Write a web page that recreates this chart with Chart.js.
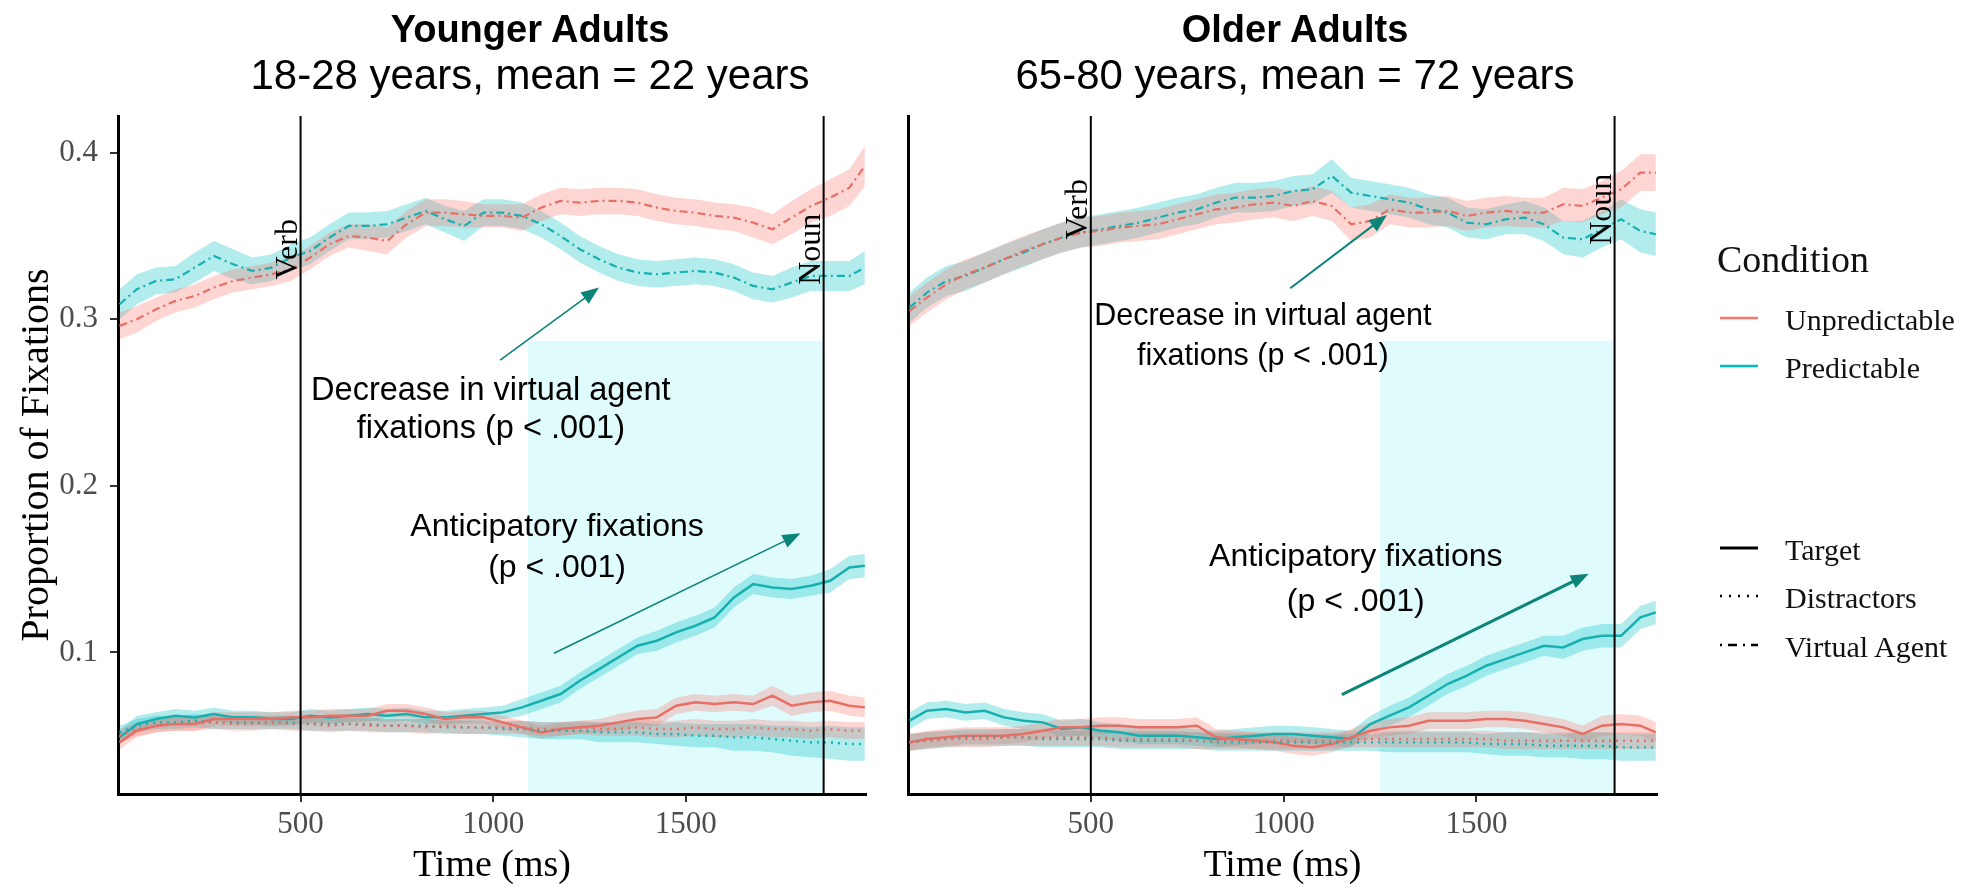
<!DOCTYPE html>
<html>
<head>
<meta charset="utf-8">
<title>Fixation proportions by age group</title>
<script src="https://cdn.jsdelivr.net/npm/chart.js@4.4.1/dist/chart.umd.min.js"></script>
<style>
  html, body { margin: 0; padding: 0; background: #fff; }
  #wrap { position: relative; width: 1980px; height: 886px; overflow: hidden; background: #fff; }
  #young { position: absolute; left: 0; top: 0; }
  #old { position: absolute; left: 880px; top: 0; }
  #overlay { position: absolute; left: 0; top: 0; }
</style>
</head>
<body>
<div id="wrap">
  <canvas id="young" width="880" height="886"></canvas>
  <canvas id="old" width="790" height="886"></canvas>
  <svg id="overlay" width="1980" height="886" xmlns="http://www.w3.org/2000/svg"></svg>
</div>
<script>
// ---- time axis (ms after sentence onset) ----
const times = [30, 75, 125, 175, 225, 275, 325, 375, 425, 475,
               525, 575, 625, 675, 725, 775, 825, 875, 925, 975,
               1025, 1075, 1125, 1175, 1225, 1275, 1325, 1375, 1425, 1475,
               1525, 1575, 1625, 1675, 1725, 1775, 1825, 1875, 1925, 1965];

const conditions = ['Unpredictable', 'Predictable'];
const regions = ['Target', 'Distractors', 'Virtual Agent'];
const panelTitles = ['Younger Adults', 'Older Adults'];
const panelSubtitles = ['18-28 years, mean = 22 years', '65-80 years, mean = 72 years'];
const eventTimes = [500, 1858];
const eventLabels = ['Verb', 'Noun'];
const xTickValues = [500, 1000, 1500];
const yTickValues = [0.1, 0.2, 0.3, 0.4];

// ---- Younger adults: mean proportion of fixations ----
const youngAgentUnpred = [0.296,0.300,0.306,0.311,0.314,0.319,0.323,0.325,0.327,0.330,
                          0.337,0.345,0.350,0.349,0.347,0.357,0.364,0.364,0.363,0.362,
                          0.362,0.361,0.367,0.371,0.370,0.371,0.371,0.370,0.367,0.365,
                          0.364,0.362,0.361,0.358,0.354,0.361,0.368,0.373,0.379,0.392];
const youngAgentPred   = [0.309,0.318,0.323,0.324,0.331,0.338,0.333,0.329,0.331,0.337,
                          0.341,0.349,0.356,0.356,0.357,0.361,0.365,0.360,0.356,0.364,
                          0.364,0.362,0.357,0.350,0.342,0.336,0.331,0.328,0.327,0.328,
                          0.329,0.328,0.325,0.320,0.318,0.322,0.326,0.326,0.326,0.331];
const youngTargetUnpred = [0.046,0.053,0.056,0.057,0.057,0.060,0.060,0.060,0.060,0.061,
                           0.061,0.062,0.062,0.062,0.065,0.065,0.063,0.060,0.061,0.061,
                           0.058,0.055,0.052,0.054,0.055,0.056,0.058,0.060,0.061,0.068,
                           0.070,0.069,0.070,0.069,0.074,0.068,0.070,0.071,0.068,0.067];
const youngTargetPred   = [0.049,0.057,0.060,0.062,0.061,0.063,0.061,0.061,0.060,0.060,
                           0.062,0.061,0.062,0.063,0.062,0.063,0.061,0.061,0.062,0.063,
                           0.064,0.067,0.071,0.075,0.083,0.090,0.097,0.104,0.107,0.112,
                           0.116,0.121,0.133,0.141,0.139,0.138,0.140,0.143,0.151,0.152];
const youngDistrUnpred = [0.050,0.054,0.056,0.057,0.057,0.058,0.057,0.057,0.058,0.057,
                          0.057,0.056,0.057,0.056,0.056,0.056,0.055,0.056,0.055,0.055,
                          0.055,0.055,0.054,0.054,0.055,0.054,0.054,0.055,0.054,0.054,
                          0.055,0.054,0.054,0.055,0.054,0.054,0.053,0.054,0.053,0.053];
const youngDistrPred   = [0.052,0.056,0.058,0.058,0.059,0.058,0.058,0.058,0.058,0.058,
                          0.057,0.057,0.057,0.057,0.056,0.056,0.056,0.055,0.055,0.055,
                          0.054,0.054,0.053,0.053,0.053,0.052,0.052,0.052,0.051,0.051,
                          0.050,0.050,0.049,0.049,0.048,0.047,0.046,0.046,0.045,0.045];

// confidence half-widths, younger adults
const youngAgentUnpredCI = [0.008,0.008,0.007,0.007,0.007,0.007,0.007,0.007,0.007,0.007,
                            0.007,0.007,0.007,0.008,0.008,0.008,0.008,0.008,0.008,0.007,
                            0.007,0.008,0.008,0.008,0.008,0.008,0.008,0.008,0.008,0.008,
                            0.008,0.008,0.008,0.009,0.009,0.010,0.010,0.011,0.011,0.012];
const youngAgentPredCI   = [0.009,0.009,0.008,0.008,0.009,0.009,0.009,0.008,0.008,0.008,
                            0.008,0.008,0.008,0.008,0.008,0.008,0.008,0.008,0.009,0.008,
                            0.008,0.008,0.008,0.008,0.008,0.008,0.008,0.008,0.008,0.008,
                            0.008,0.008,0.008,0.008,0.008,0.009,0.009,0.009,0.009,0.010];
const youngTargetUnpredCI = [0.004,0.004,0.004,0.004,0.004,0.004,0.004,0.004,0.004,0.004,
                             0.004,0.004,0.004,0.004,0.004,0.004,0.004,0.004,0.004,0.004,
                             0.004,0.004,0.004,0.004,0.004,0.004,0.005,0.005,0.005,0.005,
                             0.005,0.005,0.005,0.005,0.006,0.006,0.006,0.006,0.006,0.006];
const youngTargetPredCI   = [0.004,0.005,0.004,0.004,0.004,0.004,0.004,0.004,0.004,0.004,
                             0.004,0.004,0.004,0.004,0.004,0.004,0.004,0.004,0.004,0.004,
                             0.004,0.005,0.005,0.005,0.005,0.005,0.005,0.005,0.006,0.006,
                             0.006,0.006,0.006,0.006,0.006,0.006,0.006,0.007,0.007,0.007];
const youngDistrUnpredCI = [0.004,0.004,0.004,0.004,0.004,0.004,0.004,0.004,0.004,0.004,
                            0.004,0.004,0.004,0.004,0.004,0.004,0.004,0.004,0.004,0.004,
                            0.004,0.004,0.004,0.004,0.004,0.004,0.004,0.005,0.005,0.005,
                            0.005,0.005,0.005,0.005,0.005,0.005,0.005,0.005,0.005,0.005];
const youngDistrPredCI   = [0.004,0.004,0.004,0.004,0.004,0.004,0.004,0.004,0.004,0.004,
                            0.004,0.004,0.004,0.004,0.004,0.004,0.004,0.004,0.004,0.004,
                            0.004,0.005,0.005,0.005,0.005,0.006,0.006,0.006,0.006,0.007,
                            0.007,0.007,0.008,0.008,0.008,0.009,0.009,0.010,0.010,0.010];

// ---- Older adults: mean proportion of fixations ----
const oldAgentUnpred = [0.305,0.313,0.321,0.327,0.331,0.336,0.341,0.345,0.349,0.352,
                        0.353,0.355,0.356,0.357,0.360,0.363,0.366,0.367,0.369,0.370,
                        0.368,0.371,0.368,0.357,0.359,0.366,0.364,0.364,0.365,0.362,
                        0.364,0.365,0.364,0.364,0.369,0.368,0.373,0.378,0.388,0.388];
const oldAgentPred   = [0.307,0.316,0.323,0.326,0.331,0.336,0.340,0.345,0.349,0.352,
                        0.354,0.356,0.358,0.361,0.364,0.366,0.370,0.373,0.373,0.374,
                        0.377,0.378,0.386,0.376,0.374,0.372,0.370,0.366,0.364,0.358,
                        0.357,0.360,0.361,0.357,0.349,0.348,0.354,0.360,0.353,0.351];
const oldTargetUnpred = [0.046,0.048,0.049,0.050,0.050,0.050,0.051,0.053,0.055,0.055,
                         0.056,0.056,0.055,0.055,0.055,0.056,0.049,0.048,0.047,0.046,
                         0.044,0.043,0.045,0.049,0.053,0.055,0.056,0.059,0.059,0.059,
                         0.060,0.060,0.059,0.057,0.055,0.051,0.056,0.057,0.056,0.052];
const oldTargetPred   = [0.059,0.065,0.066,0.064,0.065,0.061,0.059,0.058,0.054,0.055,
                         0.053,0.052,0.050,0.050,0.050,0.049,0.048,0.049,0.050,0.051,
                         0.051,0.050,0.049,0.048,0.057,0.062,0.067,0.074,0.081,0.086,
                         0.092,0.096,0.100,0.104,0.103,0.108,0.110,0.110,0.121,0.124];
const oldDistrUnpred = [0.046,0.047,0.048,0.048,0.048,0.049,0.049,0.049,0.049,0.049,
                        0.049,0.048,0.048,0.048,0.048,0.047,0.047,0.047,0.047,0.047,
                        0.047,0.047,0.047,0.048,0.048,0.048,0.048,0.048,0.048,0.048,
                        0.048,0.047,0.047,0.047,0.047,0.047,0.047,0.047,0.047,0.047];
const oldDistrPred   = [0.046,0.047,0.048,0.049,0.049,0.049,0.049,0.048,0.048,0.048,
                        0.048,0.047,0.047,0.047,0.047,0.047,0.046,0.046,0.046,0.046,
                        0.046,0.046,0.046,0.046,0.046,0.046,0.046,0.046,0.046,0.046,
                        0.045,0.045,0.045,0.044,0.044,0.044,0.044,0.043,0.043,0.043];

// confidence half-widths, older adults
const oldAgentUnpredCI = [0.009,0.009,0.009,0.009,0.009,0.009,0.009,0.009,0.009,0.009,
                          0.009,0.009,0.009,0.009,0.009,0.009,0.009,0.009,0.009,0.009,
                          0.009,0.009,0.009,0.010,0.010,0.009,0.009,0.009,0.009,0.009,
                          0.009,0.009,0.009,0.009,0.010,0.010,0.010,0.011,0.011,0.011];
const oldAgentPredCI   = [0.009,0.009,0.009,0.009,0.009,0.009,0.009,0.009,0.009,0.009,
                          0.009,0.009,0.009,0.009,0.009,0.009,0.009,0.009,0.009,0.009,
                          0.009,0.009,0.010,0.009,0.009,0.009,0.009,0.009,0.009,0.009,
                          0.009,0.009,0.010,0.010,0.010,0.011,0.011,0.012,0.013,0.013];
const oldTargetUnpredCI = [0.005,0.005,0.005,0.005,0.005,0.005,0.005,0.005,0.005,0.005,
                           0.005,0.005,0.005,0.005,0.005,0.005,0.005,0.005,0.005,0.005,
                           0.005,0.005,0.005,0.005,0.005,0.005,0.005,0.005,0.005,0.005,
                           0.005,0.005,0.005,0.005,0.005,0.005,0.006,0.006,0.006,0.006];
const oldTargetPredCI   = [0.005,0.005,0.005,0.005,0.005,0.005,0.005,0.005,0.005,0.005,
                           0.005,0.005,0.005,0.005,0.005,0.005,0.005,0.005,0.005,0.005,
                           0.005,0.005,0.005,0.005,0.005,0.006,0.006,0.006,0.006,0.006,
                           0.006,0.006,0.006,0.006,0.007,0.007,0.007,0.007,0.007,0.007];
const oldDistrUnpredCI = [0.005,0.005,0.005,0.005,0.005,0.005,0.005,0.005,0.005,0.005,
                          0.005,0.005,0.005,0.005,0.005,0.005,0.005,0.005,0.005,0.005,
                          0.005,0.005,0.005,0.005,0.005,0.005,0.005,0.005,0.005,0.005,
                          0.005,0.005,0.005,0.005,0.005,0.005,0.005,0.005,0.005,0.005];
const oldDistrPredCI   = [0.005,0.005,0.005,0.005,0.005,0.005,0.005,0.005,0.005,0.005,
                          0.005,0.005,0.005,0.005,0.005,0.005,0.005,0.005,0.005,0.005,
                          0.005,0.005,0.005,0.005,0.005,0.006,0.006,0.006,0.006,0.006,
                          0.006,0.007,0.007,0.007,0.007,0.008,0.008,0.008,0.008,0.008];

// ---- styling ----
const LINE_COLOR = { Unpredictable: '#e86f66', Predictable: '#17b0b0' };
const BAND_COLOR = { Unpredictable: 'rgba(248,118,109,0.30)', Predictable: 'rgba(0,191,196,0.30)' };
const KEY_COLOR = { Unpredictable: '#F8766D', Predictable: '#00BFC4' };
const DASH = { 'Target': [], 'Distractors': [2, 5], 'Virtual Agent': [8, 4, 2, 4] };
const WIDTH = { 'Target': 2.5, 'Distractors': 2.4, 'Virtual Agent': 2.2 };
const SANS = '"Liberation Sans", Arial, sans-serif';
const SERIF = '"Liberation Serif", "Times New Roman", serif';
const ARROW_COLOR = '#0b8577';

const youngSeries = [
  { aoi: 'Virtual Agent', cond: 'Unpredictable', values: youngAgentUnpred, ci: youngAgentUnpredCI },
  { aoi: 'Virtual Agent', cond: 'Predictable',   values: youngAgentPred,   ci: youngAgentPredCI },
  { aoi: 'Distractors',   cond: 'Unpredictable', values: youngDistrUnpred, ci: youngDistrUnpredCI },
  { aoi: 'Distractors',   cond: 'Predictable',   values: youngDistrPred,   ci: youngDistrPredCI },
  { aoi: 'Target',        cond: 'Unpredictable', values: youngTargetUnpred, ci: youngTargetUnpredCI },
  { aoi: 'Target',        cond: 'Predictable',   values: youngTargetPred,   ci: youngTargetPredCI }
];
const oldSeries = [
  { aoi: 'Virtual Agent', cond: 'Unpredictable', values: oldAgentUnpred, ci: oldAgentUnpredCI },
  { aoi: 'Virtual Agent', cond: 'Predictable',   values: oldAgentPred,   ci: oldAgentPredCI },
  { aoi: 'Distractors',   cond: 'Unpredictable', values: oldDistrUnpred, ci: oldDistrUnpredCI },
  { aoi: 'Distractors',   cond: 'Predictable',   values: oldDistrPred,   ci: oldDistrPredCI },
  { aoi: 'Target',        cond: 'Unpredictable', values: oldTargetUnpred, ci: oldTargetUnpredCI },
  { aoi: 'Target',        cond: 'Predictable',   values: oldTargetPred,   ci: oldTargetPredCI }
];

// annotation layout for each panel (x in ms, y in proportion)
const youngMarks = {
  window: [1090, 1858], windowTop: 0.287, labelY: 0.342,
  notes: [
    { x: 994,  y: 0.2515, size: 32.5, text: 'Decrease in virtual agent' },
    { x: 994,  y: 0.2285, size: 32.5, text: 'fixations (p < .001)' },
    { x: 1166, y: 0.1699, size: 32,   text: 'Anticipatory fixations' },
    { x: 1166, y: 0.1454, size: 32,   text: '(p < .001)' }
  ],
  arrows: [
    { from: [1018, 0.2755], to: [1275, 0.319], width: 1.6 },
    { from: [1158, 0.0995], to: [1798, 0.1715], width: 1.6 }
  ]
};
const oldMarks = {
  window: [1250, 1858], windowTop: 0.287, labelY: 0.366,
  notes: [
    { x: 946,  y: 0.2965, size: 30.5, text: 'Decrease in virtual agent' },
    { x: 946,  y: 0.2725, size: 30.5, text: 'fixations (p < .001)' },
    { x: 1187, y: 0.1519, size: 32,   text: 'Anticipatory fixations' },
    { x: 1187, y: 0.1249, size: 32,   text: '(p < .001)' }
  ],
  arrows: [
    { from: [1017, 0.3186], to: [1268, 0.3626], width: 2 },
    { from: [1151, 0.0746], to: [1791, 0.1472], width: 3 }
  ]
};

const X_MIN = 26, X_MAX = 1968, Y_MIN = 0.015, Y_MAX = 0.422;

function buildDatasets(series) {
  const bands = [], lines = [];
  series.forEach(s => {
    const name = s.aoi + ' / ' + s.cond;
    bands.push({
      label: name + ' lower',
      data: times.map((t, i) => ({ x: t, y: s.values[i] - s.ci[i] })),
      borderWidth: 0, pointRadius: 0, fill: false, order: 2
    });
    bands.push({
      label: name + ' upper',
      data: times.map((t, i) => ({ x: t, y: s.values[i] + s.ci[i] })),
      borderWidth: 0, pointRadius: 0, fill: '-1',
      backgroundColor: BAND_COLOR[s.cond], order: 2
    });
  });
  series.forEach(s => {
    lines.push({
      label: s.aoi + ' / ' + s.cond,
      data: times.map((t, i) => ({ x: t, y: s.values[i] })),
      borderColor: LINE_COLOR[s.cond], borderWidth: WIDTH[s.aoi],
      borderDash: DASH[s.aoi], borderCapStyle: 'butt',
      pointRadius: 0, fill: false, order: 1
    });
  });
  return bands.concat(lines);
}

function drawArrow(ctx, x0, y0, x1, y1, w) {
  const ang = Math.atan2(y1 - y0, x1 - x0);
  const c = Math.cos(ang), s = Math.sin(ang);
  const head = 18, half = 7;
  ctx.strokeStyle = ARROW_COLOR;
  ctx.fillStyle = ARROW_COLOR;
  ctx.lineWidth = w;
  ctx.setLineDash([]);
  ctx.beginPath();
  ctx.moveTo(x0, y0);
  ctx.lineTo(x1 - head * 0.8 * c, y1 - head * 0.8 * s);
  ctx.stroke();
  ctx.beginPath();
  ctx.moveTo(x1, y1);
  ctx.lineTo(x1 - head * c + half * s, y1 - head * s - half * c);
  ctx.lineTo(x1 - head * c - half * s, y1 - head * s + half * c);
  ctx.closePath();
  ctx.fill();
}

// significance window, event lines, notes and arrows
const panelMarks = {
  id: 'panelMarks',
  beforeDatasetsDraw(chart, args, opts) {
    const { ctx, chartArea: a, scales: { x, y } } = chart;
    const x0 = x.getPixelForValue(opts.window[0]);
    const x1 = x.getPixelForValue(opts.window[1]);
    const yt = y.getPixelForValue(opts.windowTop);
    ctx.save();
    ctx.fillStyle = '#e0fbfc';
    ctx.fillRect(x0, yt, x1 - x0, a.bottom - 1.5 - yt);
    ctx.restore();
  },
  afterDatasetsDraw(chart, args, opts) {
    const { ctx, chartArea: a, scales: { x, y } } = chart;
    ctx.save();
    // event onsets
    eventTimes.forEach((t, i) => {
      const px = x.getPixelForValue(t);
      ctx.strokeStyle = '#000';
      ctx.lineWidth = 2;
      ctx.setLineDash([]);
      ctx.beginPath();
      ctx.moveTo(px, a.top);
      ctx.lineTo(px, a.bottom);
      ctx.stroke();
      ctx.save();
      ctx.translate(px - 4, y.getPixelForValue(opts.labelY));
      ctx.rotate(-Math.PI / 2);
      ctx.fillStyle = '#000';
      ctx.font = '32px ' + SERIF;
      ctx.textAlign = 'center';
      ctx.textBaseline = 'alphabetic';
      ctx.fillText(eventLabels[i], 0, 0);
      ctx.restore();
    });
    // notes
    ctx.fillStyle = '#000';
    ctx.textAlign = 'center';
    ctx.textBaseline = 'alphabetic';
    opts.notes.forEach(n => {
      ctx.font = n.size + 'px ' + SANS;
      ctx.fillText(n.text, x.getPixelForValue(n.x), y.getPixelForValue(n.y));
    });
    // arrows
    opts.arrows.forEach(ar => {
      drawArrow(ctx,
        x.getPixelForValue(ar.from[0]), y.getPixelForValue(ar.from[1]),
        x.getPixelForValue(ar.to[0]), y.getPixelForValue(ar.to[1]), ar.width);
    });
    ctx.restore();
  }
};

function makePanel(canvasId, series, marks, withYLabels, rightPad) {
  return new Chart(document.getElementById(canvasId), {
    type: 'line',
    data: { datasets: buildDatasets(series) },
    plugins: [panelMarks],
    options: {
      responsive: false,
      animation: false,
      events: [],
      layout: { padding: { top: 116, right: rightPad, left: 0, bottom: 0 } },
      elements: { line: { tension: 0 }, point: { radius: 0 } },
      plugins: {
        legend: { display: false },
        tooltip: { enabled: false },
        filler: { propagate: false },
        panelMarks: marks
      },
      scales: {
        x: {
          type: 'linear', min: X_MIN, max: X_MAX,
          afterBuildTicks: s => { s.ticks = xTickValues.map(v => ({ value: v })); },
          ticks: {
            autoSkip: false, maxRotation: 0, padding: 4, color: '#4d4d4d',
            font: { family: SERIF, size: 31 },
            callback: v => String(v)
          },
          grid: { display: true, drawOnChartArea: false, drawTicks: true, tickLength: 8, color: '#333', lineWidth: 2 },
          border: { display: true, color: '#000', width: 3 },
          title: {
            display: true, text: 'Time (ms)', color: '#000',
            font: { family: SERIF, size: 38, lineHeight: 1 },
            padding: { top: 0, bottom: 1 }
          },
          afterFit: s => { s.height = 92; }
        },
        y: {
          type: 'linear', min: Y_MIN, max: Y_MAX,
          afterBuildTicks: s => { s.ticks = yTickValues.map(v => ({ value: v })); },
          ticks: {
            display: withYLabels, padding: 12, color: '#4d4d4d',
            font: { family: SERIF, size: 31 },
            callback: v => v.toFixed(1)
          },
          grid: { display: withYLabels, drawOnChartArea: false, drawTicks: true, tickLength: 8, color: '#333', lineWidth: 2 },
          border: { display: true, color: '#000', width: 3 },
          title: {
            display: withYLabels, text: 'Proportion of Fixations', color: '#000',
            font: { family: SERIF, size: 40, lineHeight: 1 },
            padding: { top: 17, bottom: 0 }
          },
          afterFit: s => { s.width = withYLabels ? 118 : 28; }
        }
      }
    }
  });
}

makePanel('young', youngSeries, youngMarks, true, 14);
makePanel('old', oldSeries, oldMarks, false, 13);

// ---- headings and legend ----
const svg = document.getElementById('overlay');
const NS = 'http://www.w3.org/2000/svg';
function addText(x, y, str, size, family, opts = {}) {
  const t = document.createElementNS(NS, 'text');
  t.setAttribute('x', x);
  t.setAttribute('y', y);
  t.setAttribute('font-size', size);
  t.setAttribute('font-family', family);
  t.setAttribute('fill', opts.fill || '#000');
  if (opts.weight) t.setAttribute('font-weight', opts.weight);
  if (opts.anchor) t.setAttribute('text-anchor', opts.anchor);
  t.textContent = str;
  svg.appendChild(t);
}
function addKey(y, color, dash, width) {
  const l = document.createElementNS(NS, 'line');
  l.setAttribute('x1', 1720); l.setAttribute('x2', 1758);
  l.setAttribute('y1', y); l.setAttribute('y2', y);
  l.setAttribute('stroke', color);
  l.setAttribute('stroke-width', width);
  if (dash.length) l.setAttribute('stroke-dasharray', dash.join(','));
  svg.appendChild(l);
}

const headingX = [530, 1295];
panelTitles.forEach((t, i) => {
  addText(headingX[i], 42, t, 38, SANS, { weight: 'bold', anchor: 'middle' });
  addText(headingX[i], 89, panelSubtitles[i], 42, SANS, { anchor: 'middle' });
});

addText(1717, 272, 'Condition', 38, SERIF, { fill: '#111' });
const condRows = [330, 378];
conditions.forEach((c, i) => {
  addKey(condRows[i] - 12, KEY_COLOR[c], [], 2.5);
  addText(1785, condRows[i], c, 30, SERIF, { fill: '#111' });
});
const regionRows = [560, 608, 657];
const keyDash = { 'Target': [], 'Distractors': [2, 7], 'Virtual Agent': [2, 6, 9, 6] };
regions.forEach((r, i) => {
  addKey(regionRows[i] - 12, '#000', keyDash[r], r === 'Target' ? 3 : 2.5);
  addText(1785, regionRows[i], r, 30, SERIF, { fill: '#111' });
});
</script>
</body>
</html>
